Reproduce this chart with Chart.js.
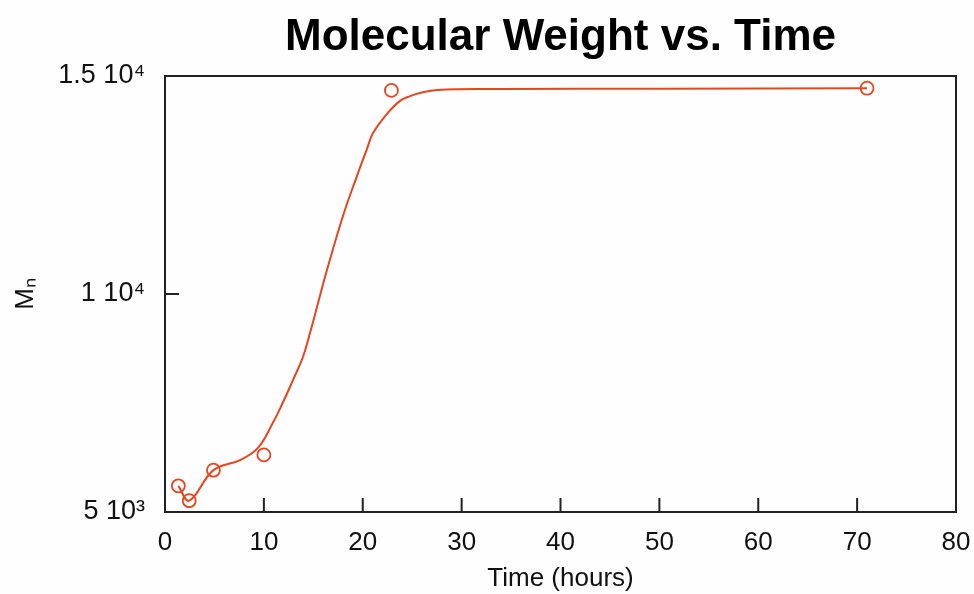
<!DOCTYPE html>
<html>
<head>
<meta charset="utf-8">
<script src="https://cdn.jsdelivr.net/npm/chart.js@4/dist/chart.umd.min.js"></script>
<style>
html,body{margin:0;padding:0;background:#fefefe;}
#wrap{width:974px;height:594px;position:relative;}
</style>
</head>
<body>
<div id="wrap"><canvas id="c" width="974" height="594"></canvas></div>
<script>
// measured data
const times = [1.35, 2.45, 4.9, 10, 22.9, 71];
const mn = [5600, 5260, 5960, 6310, 14670, 14720];
// fitted curve
const fitT = [1.35, 2.45, 4.9, 7.6, 9.4, 10.9, 11.9, 12.95, 13.96, 14.67, 15.37, 16.38, 18.0, 19.42, 20.43, 21.04, 22.45, 23.77, 24.78, 25.79, 27.5, 33.9, 50, 71];
const fitMn = [5600, 5260, 5960, 6190, 6470, 7040, 7500, 8030, 8560, 9110, 9700, 10550, 11790, 12710, 13330, 13690, 14130, 14430, 14540, 14610, 14680, 14700, 14710, 14720];
// axis ticks
const xTickValues = [0, 10, 20, 30, 40, 50, 60, 70, 80];
const yTickValues = [5000, 10000, 15000];
const yTickLabels = ['5 10\u00B3', '1 10\u2074', '1.5 10\u2074'];

const RED = 'rgb(232,68,30)';
const FONT = "'Liberation Sans', Arial, Helvetica, sans-serif";

const framePlugin = {
  id: 'frame',
  afterDraw(chart) {
    const {ctx, chartArea: a, scales} = chart;
    ctx.save();
    ctx.strokeStyle = '#222';
    ctx.lineWidth = 2;
    ctx.strokeRect(a.left, a.top, a.right - a.left, a.bottom - a.top);
    ctx.beginPath();
    scales.x.ticks.forEach(t => {
      const px = scales.x.getPixelForValue(t.value);
      ctx.moveTo(px, a.bottom);
      ctx.lineTo(px, a.bottom - 14);
    });
    scales.y.ticks.forEach(t => {
      const py = scales.y.getPixelForValue(t.value);
      ctx.moveTo(a.left, py);
      ctx.lineTo(a.left + 14, py);
    });
    ctx.stroke();
    ctx.restore();
  }
};

new Chart(document.getElementById('c'), {
  type: 'scatter',
  data: {
    datasets: [
      {
        label: 'fit',
        data: fitT.map((t, i) => ({x: t, y: fitMn[i]})),
        showLine: true,
        borderColor: RED,
        borderWidth: 2,
        pointRadius: 0,
        tension: 0.4,
        fill: false
      },
      {
        label: 'Mn',
        data: times.map((t, i) => ({x: t, y: mn[i]})),
        showLine: false,
        borderColor: RED,
        backgroundColor: 'rgba(0,0,0,0)',
        borderWidth: 1.8,
        pointRadius: 6.5
      }
    ]
  },
  plugins: [framePlugin],
  options: {
    responsive: false,
    animation: false,
    layout: {padding: {left: 0, right: 18, top: 0, bottom: 0}},
    plugins: {
      legend: {display: false},
      tooltip: {enabled: false},
      title: {
        display: true,
        fullSize: false,
        text: 'Molecular Weight vs. Time',
        color: '#000',
        font: {family: FONT, size: 44, weight: 'bold'},
        padding: {top: 11, bottom: 12.2}
      }
    },
    scales: {
      x: {
        type: 'linear',
        min: 0, max: 80,
        afterFit(s) { s.height = 82; s.paddingLeft = 0; s.paddingRight = 0; },
        afterBuildTicks(s) { s.ticks = xTickValues.map(v => ({value: v})); },
        grid: {display: false, drawTicks: false},
        border: {display: false},
        ticks: {
          color: '#111',
          font: {family: FONT, size: 26},
          padding: 15,
          maxRotation: 0,
          callback: v => String(v)
        },
        title: {
          display: true,
          text: 'Time (hours)',
          color: '#111',
          font: {family: FONT, size: 26},
          padding: {top: 0, bottom: 0}
        }
      },
      y: {
        type: 'linear',
        min: 5000, max: 15000,
        afterFit(s) { s.width = 165; s.paddingTop = 0; s.paddingBottom = 0; },
        afterBuildTicks(s) { s.ticks = yTickValues.map(v => ({value: v})); },
        grid: {display: false, drawTicks: false},
        border: {display: false},
        ticks: {
          color: '#111',
          font: {family: FONT, size: 27},
          padding: 20,
          callback: v => yTickLabels[yTickValues.indexOf(v)]
        },
        title: {
          display: true,
          text: 'M\u2099',
          color: '#111',
          font: {family: FONT, size: 26},
          padding: {top: 10, bottom: 0}
        }
      }
    }
  }
});
</script>
</body>
</html>
